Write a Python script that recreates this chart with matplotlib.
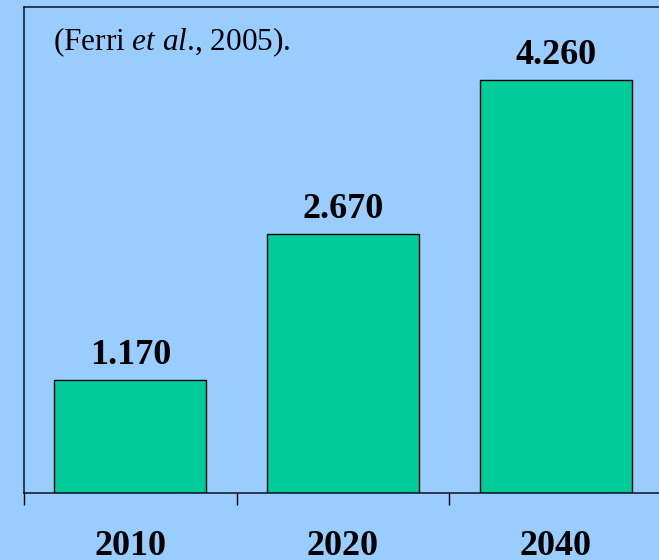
import matplotlib
matplotlib.use("Agg")
import matplotlib.pyplot as plt

plt.rcParams["mathtext.fontset"] = "custom"
plt.rcParams["mathtext.rm"] = "Liberation Serif"
plt.rcParams["mathtext.it"] = "Liberation Serif:italic"

years = ["2010", "2020", "2040"]
values = [1.170, 2.670, 4.260]
value_labels = ["1.170", "2.670", "4.260"]

bg = "#99CCFF"
bar_color = "#00CC99"

fig = plt.figure(figsize=(6.59, 5.6), dpi=100, facecolor=bg)
ax = fig.add_axes([24/659, 67/560, 638/659, 486/560])
ax.set_facecolor(bg)

x = list(range(len(years)))
ax.bar(x, values, width=0.715, color=bar_color, edgecolor="black", linewidth=1.0, zorder=2)

ax.set_xlim(-0.5, 2.5)
ax.set_ylim(0, 5.01)

serif = ["Liberation Serif", "DejaVu Serif"]
for xi, v, lab in zip(x, values, value_labels):
    ax.annotate(lab, (xi, v), xytext=(0, 11.5), textcoords="offset points",
                ha="center", va="baseline", fontsize=26, fontweight="bold",
                family=serif)

ax.set_xticks(x)
ax.set_xticklabels(years, fontsize=26, fontweight="bold", family=serif)
ax.tick_params(axis="x", which="major", length=0, pad=26.5)
ax.set_xticks([-0.5, 0.5, 1.5, 2.5], minor=True)
ax.tick_params(axis="x", which="minor", length=8.6, width=1.0, direction="out", color="black")
ax.set_yticks([])

for s in ["left", "top", "bottom", "right"]:
    ax.spines[s].set_color("#111122")
    ax.spines[s].set_linewidth(1.1)

ax.text(29/638, 0.912, "(Ferri $\\mathit{et\\ al}$., 2005).", transform=ax.transAxes,
        ha="left", va="baseline", fontsize=22.5, family=serif)

fig.savefig("out.png", dpi=100, facecolor=bg)
